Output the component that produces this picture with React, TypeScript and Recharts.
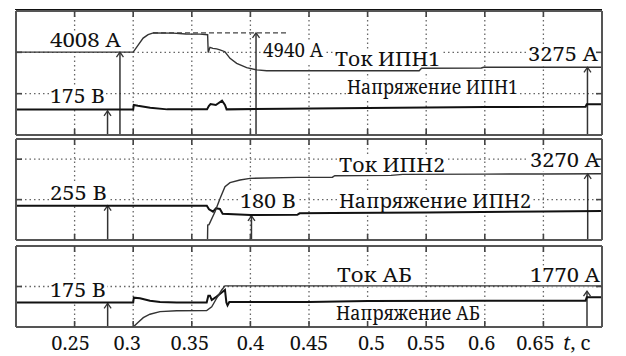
import React from "react";
import { LineChart, Line, XAxis, YAxis, ReferenceLine, ReferenceDot } from "recharts";

const FONT = '"Noto Serif", "DejaVu Serif", serif';
const PLOT_LEFT = 16;
const PLOT_W = 586;
const STUB = 6;

// время, с
const timeDomain: [number, number] = [0.2, 0.7];
const timeTicks = [0.25, 0.3, 0.35, 0.4, 0.45, 0.5, 0.55, 0.6, 0.65];
const timeTickLabels = ["0.25", "0.3", "0.35", "0.4", "0.45", "0.5", "0.55", "0.6", "0.65"];
// small horizontal nudges of the printed tick labels, px
const tickLabelShift = [-4, -6, -2, 0, 0, 4, 0, -3, -8];

// ИПН1: [t, A] и [t, B]
const currentIPN1: [number, number][] = [
  [0.2, 4008], [0.3, 4008], [0.3042, 4350], [0.3085, 4690], [0.3127, 4860], [0.3172, 4940],
  [0.334, 4930], [0.345, 4890], [0.357, 4880], [0.3635, 4850], [0.364, 3990], [0.3655, 4240],
  [0.368, 4190], [0.3712, 4170], [0.374, 4120], [0.3783, 4030], [0.3826, 3710], [0.3883, 3470],
  [0.3968, 3260], [0.4054, 3150], [0.4139, 3110], [0.544, 3110], [0.546, 3230], [0.597, 3240],
  [0.599, 3275], [0.7, 3275],
];
const voltageIPN1: [number, number][] = [
  [0.2, 185], [0.3, 185], [0.3005, 218], [0.304, 212], [0.3145, 198], [0.329, 186], [0.363, 186],
  [0.3645, 210], [0.366, 225], [0.3705, 218], [0.3758, 249], [0.3783, 218], [0.3797, 186],
  [0.43, 190], [0.5, 196], [0.6, 203], [0.686, 205], [0.687, 223], [0.7, 223],
];

// ИПН2
const currentIPN2: [number, number][] = [
  [0.2, 0], [0.3634, 0], [0.3636, 740], [0.3647, 760], [0.3698, 1400], [0.3741, 2060],
  [0.3783, 2640], [0.3826, 2840], [0.3911, 2970], [0.3997, 3050], [0.44, 3100], [0.47, 3110],
  [0.472, 3180], [0.52, 3200], [0.53, 3250], [0.6, 3260], [0.65, 3270], [0.7, 3280],
];
const voltageIPN2: [number, number][] = [
  [0.2, 255], [0.3628, 255], [0.3647, 228], [0.3681, 210], [0.3706, 235], [0.374, 230],
  [0.3763, 195], [0.4, 185], [0.44, 187], [0.442, 198], [0.47, 200], [0.55, 205], [0.65, 212],
  [0.7, 215],
];

// АБ
const currentAB: [number, number][] = [
  [0.2, 0], [0.3, 0], [0.3043, 230], [0.3086, 460], [0.3143, 630], [0.3229, 760], [0.3371, 805],
  [0.3627, 810], [0.367, 1000], [0.3712, 1420], [0.3755, 1830], [0.3783, 2030], [0.7, 2030],
];
const voltageAB: [number, number][] = [
  [0.2, 182], [0.3, 182], [0.3005, 217], [0.3057, 213], [0.3143, 195], [0.3229, 185],
  [0.3371, 181], [0.3627, 181], [0.3641, 232], [0.3655, 232], [0.367, 200], [0.3712, 225],
  [0.3755, 255], [0.3783, 274], [0.3795, 182], [0.3805, 160], [0.382, 185], [0.45, 186],
  [0.5, 192], [0.6, 194], [0.686, 195], [0.687, 220], [0.7, 220],
];

type Note = { text: string; t: number; value: number; axis: "i" | "v"; width: number };
type Arrow = { t: number; value: number; axis: "i" | "v" };
type Layout = { top: number; plotH: number; iMax: number; iTicks: number[] };

const rows = (s: [number, number][]) => s.map(([t, v]) => ({ t, v }));

// same linear mapping the charts use, for the grid overlay
const xPx = (t: number) => PLOT_LEFT + ((t - timeDomain[0]) / (timeDomain[1] - timeDomain[0])) * PLOT_W;
const yPx = (L: Layout, v: number) => L.top + L.plotH - (v / L.iMax) * L.plotH;

const noteShape = (n: Note) => (p: any) => (
  <g>
    <rect x={p.cx - 1} y={p.cy - 16} width={n.width + 2} height={21} fill="#fff" />
    <text x={p.cx} y={p.cy} fontFamily={FONT} fontSize={20} fill="#111"
      textLength={n.width} lengthAdjust="spacingAndGlyphs">{n.text}</text>
  </g>
);

const arrowShape = (p: any) => {
  const x = p.x1;
  const top = Math.min(p.y1, p.y2);
  const bottom = Math.max(p.y1, p.y2);
  return (
    <g>
      <line x1={x} y1={bottom} x2={x} y2={top} stroke="#333" strokeWidth={1.5} />
      <polyline points={`${x - 3.5},${top + 5} ${x},${top} ${x + 3.5},${top + 5}`}
        fill="none" stroke="#333" strokeWidth={1.3} />
    </g>
  );
};

const frame = { stroke: "#555", strokeWidth: 2 };

function Overlay({ layouts, kind }: { layouts: Layout[]; kind: "grid" | "ticks" }) {
  const x0 = PLOT_LEFT;
  const x1 = PLOT_LEFT + PLOT_W;
  return (
    <svg width={626} height={356} style={{ position: "absolute", left: 0, top: 0, pointerEvents: "none" }}>
      {layouts.map((L, k) => {
        const y0 = L.top;
        const y1 = L.top + L.plotH;
        return kind === "grid" ? (
          <g key={k} stroke="#666" strokeWidth={1.3} strokeDasharray="1.5 3">
            {timeTicks.map((t) => (
              <line key={"x" + t} x1={xPx(t)} x2={xPx(t)} y1={y0} y2={y1} />
            ))}
            {L.iTicks.map((v) => (
              <line key={"y" + v} x1={x0} x2={x1} y1={yPx(L, v)} y2={yPx(L, v)} />
            ))}
          </g>
        ) : (
          <g key={k} stroke="#444" strokeWidth={1.6}>
            {timeTicks.map((t) => (
              <g key={"x" + t}>
                <line x1={xPx(t)} x2={xPx(t)} y1={y0} y2={y0 + STUB} />
                <line x1={xPx(t)} x2={xPx(t)} y1={y1} y2={y1 - STUB} />
              </g>
            ))}
            {L.iTicks.map((v) => (
              <g key={"y" + v}>
                <line x1={x0} x2={x0 + STUB} y1={yPx(L, v)} y2={yPx(L, v)} />
                <line x1={x1} x2={x1 - STUB} y1={yPx(L, v)} y2={yPx(L, v)} />
              </g>
            ))}
          </g>
        );
      })}
    </svg>
  );
}

type PanelProps = Layout & {
  bottomSpace: number; vMax: number;
  current: [number, number][]; voltage: [number, number][];
  notes: Note[]; arrows: Arrow[]; dashed?: { from: number; to: number; value: number };
  timeLabels?: boolean;
};

function Panel(pp: PanelProps) {
  const mt = 4;
  const h = pp.plotH + mt + pp.bottomSpace;
  const layer = { position: "absolute" as const, left: 0, top: pp.top - mt };
  return (
    <>
      {/* back layer: captions on white */}
      <div style={layer}>
        <LineChart width={626} height={h} margin={{ top: mt, right: 24, bottom: pp.bottomSpace, left: 16 }}>
          <XAxis xAxisId="b" type="number" dataKey="t" domain={timeDomain} allowDataOverflow hide />
          <YAxis yAxisId="i" type="number" domain={[0, pp.iMax]} allowDataOverflow hide />
          <YAxis yAxisId="v" type="number" domain={[0, pp.vMax]} allowDataOverflow hide />
          <Line xAxisId="b" yAxisId="i" data={rows(pp.current)} dataKey="v" stroke="none"
            dot={false} activeDot={false} isAnimationActive={false} />
          {pp.notes.map((n, k) => (
            <ReferenceDot key={"n" + k} xAxisId="b" yAxisId={n.axis} x={n.t} y={n.value} r={0}
              shape={noteShape(n)} />
          ))}
        </LineChart>
      </div>
      {/* front layer: frame, arrows and curves */}
      <div style={layer}>
        <LineChart width={626} height={h}
          margin={{ top: mt - 1, right: 23, bottom: pp.bottomSpace - 1, left: 15 }}>
          <XAxis xAxisId="b" type="number" dataKey="t" domain={timeDomain} ticks={timeTicks}
            allowDataOverflow interval={0} height={1} tickSize={0} tickMargin={0} tickLine={false}
            axisLine={frame}
            tick={(p: any) => {
              const i = timeTicks.indexOf(p.payload.value);
              return pp.timeLabels ? (
                <text x={p.x + tickLabelShift[i]} y={p.y + 23} textAnchor="middle" fontFamily={FONT}
                  fontSize={20} fill="#111">
                  {timeTickLabels[i]}
                </text>
              ) : <g />;
            }} />
          <XAxis xAxisId="top" orientation="top" type="number" dataKey="t" domain={timeDomain}
            ticks={timeTicks} allowDataOverflow height={1} tick={false} tickLine={false} axisLine={frame} />
          <YAxis yAxisId="i" type="number" domain={[0, pp.iMax]} allowDataOverflow width={1}
            tick={false} tickLine={false} axisLine={frame} />
          <YAxis yAxisId="v" orientation="right" type="number" domain={[0, pp.vMax]} allowDataOverflow
            width={1} tick={false} tickLine={false} axisLine={frame} />
          {pp.dashed && (
            <ReferenceLine xAxisId="b" yAxisId="i" stroke="#444" strokeWidth={1.2} strokeDasharray="5 3"
              segment={[{ x: pp.dashed.from, y: pp.dashed.value }, { x: pp.dashed.to, y: pp.dashed.value }]} />
          )}
          {pp.arrows.map((a, k) => (
            <ReferenceLine key={"a" + k} xAxisId="b" yAxisId={a.axis}
              segment={[{ x: a.t, y: 0 }, { x: a.t, y: a.value }]} shape={arrowShape} />
          ))}
          <Line xAxisId="b" yAxisId="v" data={rows(pp.voltage)} dataKey="v" type="linear" stroke="#111"
            strokeWidth={2} dot={false} activeDot={false} isAnimationActive={false} />
          <Line xAxisId="b" yAxisId="i" data={rows(pp.current)} dataKey="v" type="linear" stroke="#333"
            strokeWidth={1.4} dot={false} activeDot={false} isAnimationActive={false} />
        </LineChart>
      </div>
    </>
  );
}

export default function App() {
  const L1: Layout = { top: 11, plotH: 124, iMax: 6000, iTicks: [2000, 4000] };
  const L2: Layout = { top: 139, plotH: 101, iMax: 5000, iTicks: [2000, 4000] };
  const L3: Layout = { top: 246, plotH: 81, iMax: 4000, iTicks: [2000] };
  const layouts = [L1, L2, L3];
  return (
    <div style={{ position: "absolute", left: 0, top: 0, width: 626, height: 356, background: "#fff" }}>
      <div style={{ position: "absolute", left: 15, top: 9, width: 587, borderTop: "1.5px solid #111" }} />
      <Overlay layouts={layouts} kind="grid" />
      <Panel {...L1} bottomSpace={4} vMax={900}
        current={currentIPN1} voltage={voltageIPN1}
        dashed={{ from: 0.3169, to: 0.4322, value: 4940 }}
        notes={[
          { text: "4008 А", t: 0.229, value: 4258, axis: "i", width: 71 },
          { text: "4940 А", t: 0.4108, value: 3774, axis: "i", width: 60 },
          { text: "Ток ИПН1", t: 0.4722, value: 3339, axis: "i", width: 105 },
          { text: "3275 А", t: 0.6369, value: 3581, axis: "i", width: 70 },
          { text: "175 В", t: 0.229, value: 232, axis: "v", width: 55 },
          { text: "Напряжение ИПН1", t: 0.4824, value: 294, axis: "v", width: 171 },
        ]}
        arrows={[
          { t: 0.2887, value: 4008, axis: "i" },
          { t: 0.2781, value: 175, axis: "v" },
          { t: 0.4048, value: 4940, axis: "i" },
          { t: 0.6876, value: 3275, axis: "i" },
        ]} />
      <Panel {...L2} bottomSpace={4} vMax={750}
        current={currentIPN2} voltage={voltageIPN2}
        notes={[
          { text: "255 В", t: 0.229, value: 297, axis: "v", width: 57 },
          { text: "180 В", t: 0.3911, value: 238, axis: "v", width: 56 },
          { text: "Ток ИПН2", t: 0.4756, value: 3366, axis: "i", width: 106 },
          { text: "3270 А", t: 0.6386, value: 3629, axis: "i", width: 70 },
          { text: "Напряжение ИПН2", t: 0.4756, value: 235, axis: "v", width: 192 },
        ]}
        arrows={[
          { t: 0.2782, value: 255, axis: "v" },
          { t: 0.4009, value: 180, axis: "v" },
          { t: 0.6878, value: 3270, axis: "i" },
        ]} />
      <Panel {...L3} bottomSpace={30} vMax={600}
        current={currentAB} voltage={voltageAB} timeLabels
        notes={[
          { text: "175 В", t: 0.229, value: 224, axis: "v", width: 56 },
          { text: "Ток АБ", t: 0.4739, value: 2237, axis: "i", width: 75 },
          { text: "1770 А", t: 0.6386, value: 2237, axis: "i", width: 70 },
          { text: "Напряжение АБ", t: 0.473, value: 52, axis: "v", width: 144 },
        ]}
        arrows={[
          { t: 0.2782, value: 175, axis: "v" },
          { t: 0.6872, value: 1770, axis: "i" },
        ]} />
      <Overlay layouts={layouts} kind="ticks" />
      <svg width={60} height={30} style={{ position: "absolute", left: 560, top: 330 }}>
        <text x={3} y={20} fontFamily={FONT} fontSize={20} fill="#111">
          <tspan fontStyle="italic">t</tspan>, с
        </text>
      </svg>
    </div>
  );
}
